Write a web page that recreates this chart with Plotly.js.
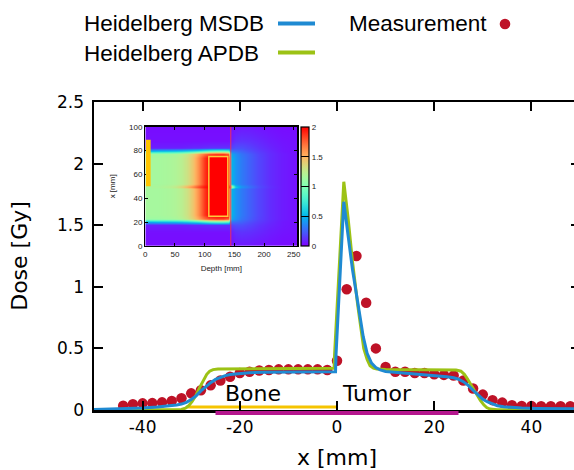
<!DOCTYPE html>
<html><head><meta charset="utf-8">
<script src="https://cdn.plot.ly/plotly-3.0.1.min.js"></script>
<style>html,body{margin:0;padding:0;overflow:hidden;background:#fff;} #chart{width:580px;height:470px;}</style>
</head><body><div id="chart"></div>
<script>
// ---- Main chart data ----
const measX = [-44,-42,-40,-38,-36,-34,-32,-30,-28,-26,-24,-22,-20,-18,-16,-14,-12,-10,-8,-6,-4,-2,0,2,4,6,8,10,12,14,16,18,20,22,24,26,28,30,32,34,36,38,40,42,44,46,48];
const measY = [0.035,0.046,0.054,0.056,0.062,0.073,0.095,0.135,0.16,0.20,0.24,0.27,0.30,0.31,0.32,0.325,0.33,0.33,0.33,0.33,0.33,0.325,0.40,0.98,1.25,0.87,0.50,0.35,0.31,0.31,0.30,0.30,0.29,0.285,0.28,0.24,0.175,0.125,0.08,0.06,0.038,0.032,0.032,0.03,0.03,0.03,0.03];

const msdbX = [-50,-44,-40,-37,-35,-33,-32,-31,-30,-29,-28,-27,-26,-25,-24,-23,-22,-20,-18,-15,-10,-5,-0.3,-0.2,1.4,2.3,3.2,4.3,5.4,6.2,7.1,8.0,8.9,10,13,16,19,22.6,24,25,26,27,28,29,30,31,32,33,34.3,36,38,41,45,50];
const msdbY = [0.004,0.008,0.016,0.024,0.03,0.04,0.048,0.062,0.085,0.115,0.155,0.19,0.222,0.248,0.266,0.279,0.288,0.298,0.303,0.307,0.309,0.31,0.31,0.45,1.69,1.41,1.136,0.866,0.595,0.46,0.38,0.345,0.325,0.312,0.303,0.292,0.283,0.27,0.262,0.25,0.23,0.2,0.16,0.12,0.088,0.065,0.047,0.035,0.027,0.02,0.016,0.013,0.011,0.01];

const apdbX = [-50,-33,-32,-31.2,-30.5,-29.8,-29,-28.3,-27.5,-26.8,-26.2,-25.5,-24.5,-20,-10,-0.6,-0.5,1.4,2.3,3.2,4.3,5.0,5.5,6.2,6.8,7.5,8.2,10,15,20,24.5,25.5,26.2,26.8,27.4,28.1,28.8,29.5,30.2,30.8,31.5,33,50];
const apdbY = [0,0,0.004,0.015,0.035,0.07,0.12,0.18,0.24,0.29,0.315,0.328,0.333,0.335,0.336,0.338,0.45,1.853,1.55,1.2,0.84,0.62,0.5,0.41,0.36,0.34,0.332,0.328,0.327,0.326,0.324,0.315,0.29,0.255,0.215,0.165,0.12,0.077,0.042,0.02,0.008,0.002,0];

const boneRange = [-31, 0];
const tumorRange = [-25, 25];

const xTickVals = [-40,-20,0,20,40];
const xTickText = ['-40','-20','0','20','40'];
const yTickVals = [0,0.5,1,1.5,2,2.5];
const yTickText = ['0','0.5','1','1.5','2','2.5'];

// ---- Inset dose map data ----
const depthCols = [0,10,20,30,40,50,60,70,80,90,100,108,120,132,139,145,152,162,175,190,210,230,256];
const latRows = [0,12,18,20.5,22.5,26,40,48,50,52,60,74,77.5,79.5,82,88,100];
const pOut  = [0.03,0.03,0.03,0.03,0.03,0.03,0.03,0.03,0.03,0.03,0.03,0.03,0.03,0.03,0.03,0.04,0.05,0.06,0.06,0.05,0.04,0.03,0.03];
const pFar  = [0.04,0.04,0.04,0.04,0.04,0.04,0.04,0.04,0.04,0.04,0.04,0.04,0.04,0.04,0.04,0.08,0.12,0.13,0.12,0.10,0.07,0.05,0.04];
const pPen  = [0.08,0.08,0.08,0.08,0.08,0.08,0.08,0.09,0.10,0.10,0.11,0.12,0.12,0.12,0.12,0.18,0.20,0.20,0.17,0.13,0.09,0.06,0.04];
const pEdge = [0.50,0.50,0.52,0.52,0.53,0.54,0.56,0.60,0.65,0.70,0.78,0.85,0.90,0.90,0.85,0.30,0.28,0.25,0.20,0.15,0.10,0.06,0.04];
const pIn   = [1.12,1.12,1.12,1.13,1.14,1.16,1.20,1.28,1.40,1.54,1.70,1.80,1.85,1.85,1.75,0.45,0.38,0.30,0.24,0.17,0.11,0.07,0.04];
const pTum  = [1.15,1.15,1.15,1.16,1.17,1.19,1.23,1.31,1.45,1.62,1.86,2.0,2.0,2.0,2.0,0.50,0.40,0.32,0.25,0.18,0.11,0.07,0.04];
const pCen  = [1.17,1.17,1.17,1.19,1.22,1.27,1.37,1.52,1.67,1.82,1.95,2.0,2.0,2.0,2.0,1.30,0.60,0.40,0.30,0.20,0.12,0.07,0.04];
const rowProfiles = [pOut,pFar,pPen,pEdge,pIn,pTum,pTum,pTum,pCen,pTum,pTum,pTum,pIn,pEdge,pPen,pFar,pOut];
const doseZ = rowProfiles.map(r => r.slice());

const insetXTicks = [0,50,100,150,200,250];
const insetYTicks = [0,20,40,60,80,100];
const cbTicks = [0,0.5,1,1.5,2];

// gnuplot rainbow palette (rgbformulae 33,13,10)
function pal(t){
  const c = v => Math.max(0, Math.min(1, v));
  const r = c(Math.abs(2*t - 0.5)), g = c(Math.sin(Math.PI*t)), b = c(Math.cos(Math.PI*t/2));
  return 'rgb(' + Math.round(r*255) + ',' + Math.round(g*255) + ',' + Math.round(b*255) + ')';
}
const cscale = [];
for (let i = 0; i <= 40; i++) cscale.push([i/40, pal(i/40)]);

const BLUE = '#1f8ad2', GREEN = '#9cc215', RED = '#be1227';
const tickFont = {family:'DejaVu Sans', size:17, color:'#000'};
const smallFont = {family:'Liberation Sans, Arial', size:8, color:'#222'};

const pw = 486, ph = 308, ml = 94, mb = 60, H = 470;
const px2x = p => (p - ml) / pw;
const py2y = p => (H - p - mb) / ph;

const traces = [
  {type:'heatmap', x:depthCols, y:latRows, z:doseZ, xaxis:'x2', yaxis:'y2', zmin:0, zmax:2,
   colorscale:cscale, zsmooth:'best', hoverinfo:'skip',
   colorbar:{x:0.4259, xanchor:'left', xref:'paper', y:0.5325, yanchor:'bottom', yref:'paper',
     len:0.3873, lenmode:'fraction', thickness:8.3, thicknessmode:'pixels', xpad:0, ypad:0,
     outlinewidth:1.2, outlinecolor:'#000', tickvals:cbTicks, ticktext:cbTicks.map(String),
     ticks:'inside', ticklen:8, tickwidth:1, tickcolor:'#000', tickfont:smallFont, borderwidth:0}},
  {type:'scatter', mode:'lines', x:boneRange, y:[0.024,0.024], line:{color:'#f5c400', width:3}, hoverinfo:'skip'},
  {type:'scatter', mode:'markers', name:'Measurement', x:measX, y:measY, marker:{color:RED, size:10.5}, cliponaxis:false},
  {type:'scatter', mode:'lines', name:'Heidelberg APDB', x:apdbX, y:apdbY, line:{color:GREEN, width:3}},
  {type:'scatter', mode:'lines', name:'Heidelberg MSDB', x:msdbX, y:msdbY, line:{color:BLUE, width:3}}
];

const layout = {
  width:580, height:470,
  margin:{l:94, r:0, t:102, b:60, pad:0},
  paper_bgcolor:'#fff', plot_bgcolor:'#fff',
  showlegend:false,
  xaxis:{range:[-50,50], showline:true, linecolor:'#000', linewidth:2.5, mirror:'ticks',
    ticks:'inside', ticklen:9, tickwidth:2, tickcolor:'#000', tickvals:xTickVals, ticktext:xTickText,
    tickfont:tickFont, showgrid:false, zeroline:false,
    title:{text:'x [mm]', font:{family:'DejaVu Sans', size:22, color:'#000'}, standoff:15}},
  yaxis:{range:[0,2.5], showline:true, linecolor:'#000', linewidth:2.5, mirror:'ticks',
    ticks:'inside', ticklen:9, tickwidth:2, tickcolor:'#000', tickvals:yTickVals, ticktext:yTickText,
    tickfont:tickFont, showgrid:false, zeroline:false, ticklabelstandoff:4,
    title:{text:'Dose [Gy]', font:{family:'DejaVu Sans', size:22, color:'#000'}, standoff:24}},
  xaxis2:{domain:[px2x(145.3), px2x(297.3)], anchor:'y2', range:[0,256], showline:true, linecolor:'#000', linewidth:1.3,
    mirror:'ticks', ticks:'inside', ticklen:3, tickwidth:1, tickcolor:'#000', tickvals:insetXTicks,
    tickfont:smallFont, showgrid:false, zeroline:false,
    title:{text:'Depth [mm]', font:smallFont, standoff:7}},
  yaxis2:{domain:[py2y(246), py2y(126.7)], anchor:'x2', range:[0,100], showline:true, linecolor:'#000', linewidth:1.3,
    mirror:'ticks', ticks:'inside', ticklen:3, tickwidth:1, tickcolor:'#000', tickvals:insetYTicks,
    tickfont:smallFont, showgrid:false, zeroline:false,
    title:{text:'x [mm]', font:smallFont, standoff:12}},
  shapes:[
    {type:'rect', xref:'x', yref:'paper', x0:tumorRange[0], x1:tumorRange[1], y0:py2y(415), y1:py2y(411), fillcolor:'#b5178e', line:{width:0}},
    {type:'rect', xref:'x2', yref:'y2', x0:1, x1:9, y0:50, y1:89, fillcolor:'#ffc400', line:{width:0}},
    {type:'rect', xref:'x2', yref:'y2', x0:107, x1:139, y0:25, y1:75, line:{color:'#ffc83c', width:1.5}},
    {type:'line', xref:'x2', yref:'y2', x0:144, x1:144, y0:0, y1:100, line:{color:'#ee2f57', width:1}},
    {type:'line', xref:'paper', yref:'paper', x0:px2x(278), x1:px2x(315), y0:py2y(23.5), y1:py2y(23.5), line:{color:BLUE, width:4}},
    {type:'line', xref:'paper', yref:'paper', x0:px2x(278), x1:px2x(315), y0:py2y(52.5), y1:py2y(52.5), line:{color:GREEN, width:4}},
    {type:'circle', xref:'paper', yref:'paper', x0:px2x(499.7), x1:px2x(510.3), y0:py2y(29.3), y1:py2y(18.7), fillcolor:RED, line:{width:0}}
  ],
  annotations:[
    {xref:'paper', yref:'paper', x:px2x(82), y:py2y(24), xanchor:'left', yanchor:'middle', showarrow:false, text:'Heidelberg MSDB', font:{family:'Liberation Sans, Arial', size:22.5, color:'#000'}},
    {xref:'paper', yref:'paper', x:px2x(82), y:py2y(54), xanchor:'left', yanchor:'middle', showarrow:false, text:'Heidelberg APDB', font:{family:'Liberation Sans, Arial', size:22.5, color:'#000'}},
    {xref:'paper', yref:'paper', x:px2x(347), y:py2y(24), xanchor:'left', yanchor:'middle', showarrow:false, text:'Measurement', font:{family:'Liberation Sans, Arial', size:22.5, color:'#000'}},
    {xref:'x', yref:'y', x:-23.4, y:0.13, xanchor:'left', yanchor:'middle', showarrow:false, text:'Bone', font:{family:'DejaVu Sans', size:22, color:'#000'}},
    {xref:'x', yref:'y', x:0.6, y:0.13, xanchor:'left', yanchor:'middle', showarrow:false, text:'Tumor', font:{family:'DejaVu Sans', size:22, color:'#000'}}
  ]
};

Plotly.newPlot('chart', traces, layout, {displayModeBar:false, responsive:false, staticPlot:true});
</script></body></html>
